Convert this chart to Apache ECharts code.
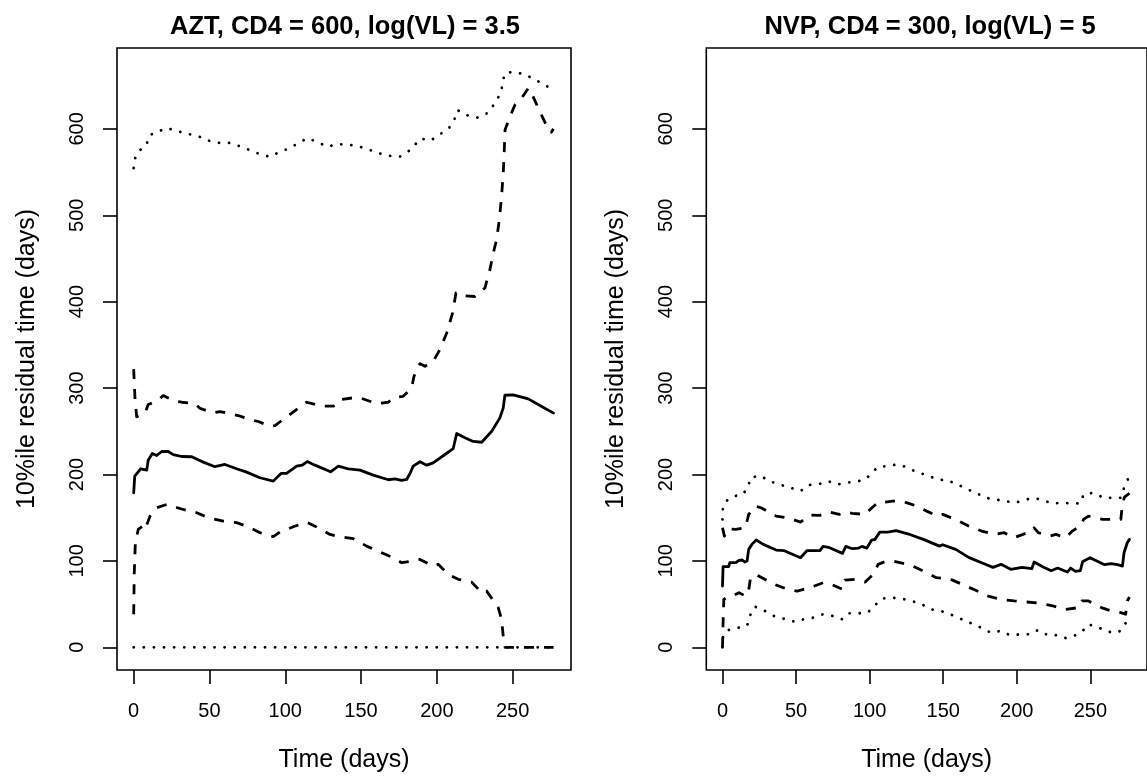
<!DOCTYPE html>
<html>
<head>
<meta charset="utf-8">
<script src="https://cdn.jsdelivr.net/npm/echarts@6/dist/echarts.min.js"></script>
<style>
html,body{margin:0;padding:0;background:#fff;}
#chart{width:1147px;height:778px;}
</style>
</head>
<body>
<div id="chart"></div>
<script>
// ---------- data (time in days, value = 10%ile residual time in days) ----------
var panelTitles = ['AZT, CD4 = 600, log(VL) = 3.5', 'NVP, CD4 = 300, log(VL) = 5'];
var xTicks = [0, 50, 100, 150, 200, 250];
var yTicks = [0, 100, 200, 300, 400, 500, 600];

var aztMedian = [[0,178.8],[0.7,198],[2,198],[4.6,206.6],[5.9,205.8],[8.6,205],[9.6,216.5],[12.3,224.3],[15.2,222],[18.5,226.6],[22.8,226.6],[26.1,223],[31.7,220.8],[38.3,220.5],[45.9,214.3],[53.6,209],[60.2,211.6],[67.9,206.6],[74.5,202.7],[83.3,196.2],[92.1,192.3],[97.2,201.2],[100.9,201.2],[107.5,209.6],[111.2,210.8],[114.5,215],[119.6,210.8],[129.9,203.1],[135,209.6],[141.6,206.6],[149.3,205],[158,199.2],[168,193.9],[172.4,195],[176.8,193.1],[180.1,194.2],[182.3,201.2],[184.4,209.6],[188.9,214.7],[193.3,210.8],[197.6,213.5],[205.3,223.1],[210.8,230],[213.1,247.4],[218.5,242.4],[224,238.2],[229.6,237.3],[236.2,250],[241.6,265.5],[243.8,277.1],[244.9,291.7],[250.4,292.1],[260.3,287.5],[268,279.8],[277,271]];
var aztUpperDashed = [[0,322],[0.9,286.7],[2,266.7],[7.5,271.3],[9.6,281],[15.2,284.8],[19.5,291.3],[26.1,285.5],[31.7,283.6],[40.4,282],[43.7,276.6],[52.5,271.3],[56.9,272.8],[65.7,269.4],[69,268.2],[76.7,263.6],[82.2,261.3],[89.9,255.8],[93.2,256.6],[100.9,266.7],[108.6,276.6],[114.1,283.6],[124,279],[131.7,279],[136.1,286.7],[144.9,288.7],[149.3,288.7],[160.3,282],[168,283.6],[171.2,288.7],[177.8,290.5],[183.4,300.2],[184.9,313.6],[188.9,328.3],[192.2,325.2],[197.6,331],[202,344.5],[206.5,363.8],[210.4,387],[212.6,410],[216.3,407],[225.1,406],[231.7,415.8],[235,437],[237.2,456],[239.4,471.7],[241.2,494.8],[242.7,521.8],[243.8,548.8],[244.5,575.7],[245,599],[248.2,614.2],[251.5,627.7],[255.9,635.5],[260.3,647],[262.5,641.2],[266.9,624],[272,605],[275.5,596],[277,600]];
var aztUpperDotted = [[0,554.6],[1.1,567],[4.4,575.7],[8.3,580.7],[10.5,592.7],[15.6,596.5],[22,601],[28.8,597.3],[35.8,594.2],[42.6,591.5],[49.2,586.5],[56.1,583.8],[62.9,583.8],[69.9,580],[76.5,575.4],[83.3,570.7],[89.9,567.6],[95.8,573],[102.2,577.2],[108.6,583.4],[114.5,589.2],[121.1,585],[127.7,579.2],[134.3,582.3],[140.9,581.9],[148,580],[155,576],[161.8,571.8],[168.9,568.8],[175.7,568],[181.4,574.2],[184.9,580.3],[189.3,588.8],[195.9,586.5],[201.8,593.4],[208,600.8],[211.5,610.8],[213.7,621.6],[220,615.8],[227.1,613],[233,618],[237.5,627.7],[241.2,638.5],[243.4,650.9],[244.5,663.6],[250.4,666.2],[257.5,663.2],[264,657.8],[270,652],[277,645]];
var aztLowerDashed = [[0,38.2],[0.4,86.3],[1.1,121],[3,136.4],[5.9,140.2],[7.5,136.4],[10.8,151.8],[15.2,161.5],[21.8,165.3],[32.7,159.5],[41.6,155.7],[49.2,150],[59.1,146],[67.9,144.2],[74.5,140.2],[83.3,132.6],[92.1,128],[96.5,133.3],[105.3,139.5],[114.1,144.9],[119.6,140.2],[129.5,130.6],[136.1,128],[144.9,125.7],[153.7,117.1],[162.5,110.2],[171.2,103.7],[176.8,97.9],[184.4,99.8],[188.9,101.7],[197.6,94],[200.9,96],[207.5,84.4],[214.1,78.6],[222.9,75.5],[229.6,63.2],[232.8,65.1],[240.5,45.9],[242.7,32.4],[244.3,3.5],[245,0],[277,0]];
var aztLowerDotted = [[0,0],[277,0]];

var nvpMedian = [[0,70.9],[0.4,93.3],[4.2,93.3],[5,97.9],[9,97.9],[11.2,100.6],[13.4,101],[15.2,98.7],[16.7,99.8],[17.8,113.3],[20,119.1],[22.9,124.1],[27.7,119.1],[36.5,112.5],[42,111.8],[53,103.7],[57.4,111.8],[66.2,111.8],[68.4,116.8],[72.8,115.2],[81.6,108.7],[83.8,116.8],[88.2,114.1],[92.6,114.8],[94.8,116.8],[98.1,114.8],[101.4,124.1],[103.6,124.9],[106.9,133.3],[112.4,133.3],[117.9,134.9],[127.8,130.3],[136.5,124.9],[147.5,117.1],[149.7,118.7],[158.5,113.3],[167.3,104],[176.1,97.9],[183.8,92.5],[189.3,96],[195.9,90.2],[203.6,92.5],[210.2,90.9],[211.8,98.7],[217.9,92.9],[223.4,88.6],[227.8,91.7],[234.4,87.1],[236.6,91.7],[239.9,87.9],[243.2,88.6],[244.7,99],[249.8,103.7],[259.7,95.6],[264.1,96.7],[268.5,95.6],[271.8,94],[272.9,109.4],[275.1,121],[276.6,124.9]];
var nvpUpperDashed = [[0,138.3],[1.3,128.7],[4.2,137.2],[9,136.4],[15.6,138.3],[17.8,153.8],[22.2,163.4],[26.2,161.5],[36.5,151.8],[44.2,149.9],[53,144.9],[59.6,153],[66.2,152.6],[72.8,156.5],[79.4,153.8],[83.8,156.5],[88.2,154.9],[97,153.8],[100.3,159.5],[105.8,168],[110.2,168],[118.9,169.9],[125.5,167.2],[132.1,163.4],[138.7,157.6],[146.4,151.8],[149.7,153.8],[158.5,148],[167.3,140.3],[176.1,134.5],[184.9,130.6],[191.5,132.6],[198.1,126.8],[204.7,131],[210.2,134.5],[211.8,138.3],[214.6,132.6],[222.3,128.7],[226.7,130.6],[233.3,126.8],[237.7,134.5],[243.2,140.3],[245.4,148],[248.7,151.8],[258.6,148],[264.1,148],[270.7,148],[271.8,166],[273.3,174],[276.6,178]];
var nvpUpperDotted = [[0,148],[0.2,159.5],[2.4,169.2],[7.9,175],[13.4,176.5],[17.4,184.6],[18.9,196.1],[25.5,198.8],[32.1,192.3],[38.7,188.4],[46.4,184.6],[53,180.7],[58.5,187.7],[66.2,189.2],[71.7,192.3],[78.3,188.4],[83.8,190.4],[89.3,191.5],[95.9,193.4],[100.3,199.2],[105.3,208.5],[111.9,209.6],[118.5,211.6],[125.1,208.5],[132.1,202.7],[139.2,199.2],[145.8,194.2],[152.4,193.4],[159,189.2],[165.6,183.4],[172.2,178.8],[178.8,173],[185.4,171.1],[191.9,169.2],[198.5,167.2],[205.1,170.3],[211.3,173],[217.9,170.3],[224.1,166.5],[230.7,167.2],[237.3,166.5],[243.2,166.5],[245.4,176.9],[252,178.8],[259.2,173],[266.3,173],[270.7,173],[273.3,186.5],[275,192.3],[276.6,199.2]];
var nvpLowerDashed = [[0,0],[0.4,28.5],[0.9,55.5],[3.5,58.2],[6.8,59.3],[11.2,63.2],[15.6,59.3],[17.4,61.3],[18.9,78.6],[22.2,84.4],[28.8,78.6],[35.4,72.8],[44.2,67],[50.8,65.1],[59.6,69],[68.4,74.8],[73.9,72.8],[81.6,67],[83.3,77.8],[90.4,78.6],[97,75.5],[102.5,84.4],[105.8,96],[110.2,99],[115.7,99.8],[127.8,95.2],[136.5,88.2],[145.3,80.5],[154.1,79.4],[162.9,72.8],[171.7,66.3],[180.5,59.3],[189.3,55.5],[198.1,53.6],[206.9,52.4],[215.7,50.9],[224.5,47.8],[233.3,43.9],[242.1,45.9],[244.3,53.6],[248.7,53.6],[257.5,45.9],[264.1,42],[270.7,40.1],[274,38.2],[275.1,53.6],[276.6,58.2]];
var nvpLowerDotted = [[0,0],[0.4,13.1],[2.4,18.9],[6.8,21.6],[11.2,22.7],[16.7,24.7],[18.5,36.2],[22.2,47],[28.8,42],[35.8,35.5],[43.1,32.4],[49.7,29.3],[55.2,32.4],[61.8,34.3],[68.4,38.2],[75,36.2],[81.1,32.4],[85.5,39.3],[92.6,39.3],[98.7,40.1],[103.6,48.6],[108.4,56.3],[114.6,57.4],[121.6,56.3],[128.8,53.6],[135.4,49.7],[142,43.9],[148.6,42],[155.9,37.4],[162.5,32.4],[169.1,27.7],[175.7,22.7],[182.3,17],[188.9,18.9],[195.5,13.9],[202.1,15],[208.7,15],[214.6,20],[221.2,13.9],[227.8,13.9],[233.7,10.4],[239.9,13.9],[244.7,18.9],[248.7,26.6],[255.7,22.7],[262.9,17.7],[269.5,17.7],[272.9,26.6],[276.6,31]];

// ---------- chart ----------
var FONT = '"Liberation Sans", Arial, Helvetica, sans-serif';
var chart = echarts.init(document.getElementById('chart'), null, {renderer: 'canvas'});

var grids = [
  {left: 117, top: 48, width: 454, height: 622.7},
  {left: 706.3, top: 48, width: 454, height: 622.7}
];

function xAxisFor(i) {
  return {
    type: 'value', gridIndex: i, min: -11, max: 288.5, position: 'bottom',
    name: 'Time (days)', nameLocation: 'middle', nameGap: 78,
    nameTextStyle: {fontFamily: FONT, fontSize: 25, color: '#000'},
    axisLine: {show: false, onZero: false},
    splitLine: {show: false},
    axisTick: {show: true, inside: false, length: 14, customValues: xTicks,
               lineStyle: {color: '#000', width: 1.6}},
    axisLabel: {show: true, customValues: xTicks, margin: 31, fontFamily: FONT, fontSize: 20, color: '#000'}
  };
}
function yAxisFor(i) {
  return {
    type: 'value', gridIndex: i, min: -26.3, max: 693.6, position: 'left',
    name: '10%ile residual time (days)', nameLocation: 'middle', nameGap: 77.5,
    nameTextStyle: {fontFamily: FONT, fontSize: 25, color: '#000'},
    axisLine: {show: false, onZero: false},
    splitLine: {show: false},
    axisTick: {show: true, inside: false, length: 14, customValues: yTicks,
               lineStyle: {color: '#000', width: 1.6}},
    axisLabel: {show: true, customValues: yTicks, rotate: 90, margin: 30,
                align: 'center', verticalAlign: 'bottom',
                fontFamily: FONT, fontSize: 20, color: '#000'}
  };
}

var SOLID = {color: '#000', width: 2.8, type: 'solid', join: 'round', cap: 'round'};
var DASHED = {color: '#000', width: 2.8, type: [10, 10], join: 'round', cap: 'butt'};
var DOTTED = {color: '#000', width: 2.8, type: [0.1, 10], join: 'round', cap: 'round'};

function line(data, style, i) {
  return {type: 'line', xAxisIndex: i, yAxisIndex: i, data: data, showSymbol: false,
          symbol: 'none', lineStyle: style, animation: false, silent: true, clip: true};
}

var option = {
  backgroundColor: '#fff',
  animation: false,
  title: [
    {text: panelTitles[0], left: 345, top: 14, padding: 0, textAlign: 'center',
     textStyle: {fontFamily: FONT, fontSize: 25.5, fontWeight: 'bold', color: '#000'}},
    {text: panelTitles[1], left: 930, top: 14, padding: 0, textAlign: 'center',
     textStyle: {fontFamily: FONT, fontSize: 25.5, fontWeight: 'bold', color: '#000'}}
  ],
  grid: grids.map(function (g) {
    return Object.assign({show: true, borderColor: '#000', borderWidth: 1.6, backgroundColor: 'transparent', containLabel: false}, g);
  }),
  xAxis: [xAxisFor(0), xAxisFor(1)],
  yAxis: [yAxisFor(0), yAxisFor(1)],
  series: [
    line(aztMedian, SOLID, 0),
    line(aztUpperDashed, DASHED, 0),
    line(aztLowerDashed, DASHED, 0),
    line(aztUpperDotted, DOTTED, 0),
    line(aztLowerDotted, DOTTED, 0),
    line(nvpMedian, SOLID, 1),
    line(nvpUpperDashed, DASHED, 1),
    line(nvpLowerDashed, DASHED, 1),
    line(nvpUpperDotted, DOTTED, 1),
    line(nvpLowerDotted, DOTTED, 1)
  ]
};
chart.setOption(option);
</script>
</body>
</html>
